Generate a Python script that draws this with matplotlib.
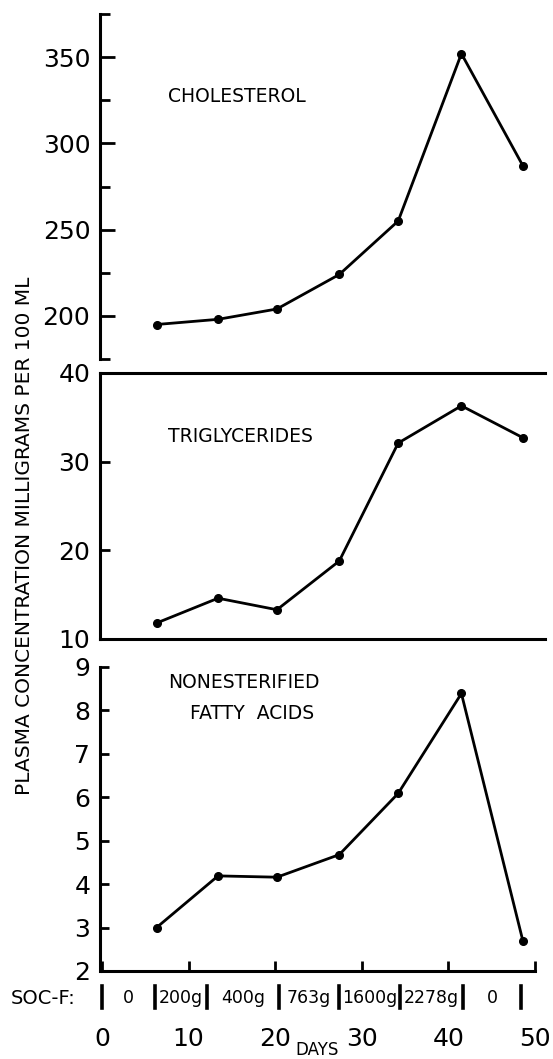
import matplotlib.pyplot as plt
from matplotlib.transforms import blended_transform_factory

plt.rcParams['font.family'] = 'DejaVu Sans'

# sampling days (shared by all three panels)
days = [6.3, 13.4, 20.2, 27.4, 34.2, 41.5, 48.6]

# plasma concentrations, mg per 100 ml
cholesterol = [195, 198, 204, 224, 255, 352, 287]
triglycerides = [11.8, 14.6, 13.3, 18.8, 32.1, 36.3, 32.7]
nefa = [3.0, 4.19, 4.16, 4.68, 6.09, 8.39, 2.69]

# SOC-F dosage periods
dose_change_days = [0, 6.1, 12.1, 20.4, 27.4, 34.4, 41.7, 48.4]
dose_labels = ['0', '200g', '400g', '763g', '1600g', '2278g', '0']

W, H = 553, 1059
fig = plt.figure(figsize=(W / 100, H / 100), dpi=100)

def px_axes(top, bottom, left=100, right=545):
    return fig.add_axes([left / W, 1 - bottom / H, (right - left) / W, (bottom - top) / H])

xlim = (-0.23, 51.15)
lw_spine = 2.2
line_kw = dict(color='black', lw=2.0, marker='o', ms=5.5, clip_on=False)
title_size = 13.5

# --- cholesterol ---
ax1 = px_axes(14, 359)
ax1.plot(days, cholesterol, **line_kw)
ax1.set_xlim(xlim)
ax1.set_ylim(175, 375)
for s in ['top', 'right', 'bottom']:
    ax1.spines[s].set_visible(False)
ax1.spines['left'].set_linewidth(lw_spine)
ax1.set_xticks([])
ax1.set_yticks([200, 250, 300, 350])
ax1.set_yticks([175, 225, 275, 325, 375], minor=True)
ax1.tick_params(axis='y', which='major', direction='in', length=10.5, width=2, labelsize=18, pad=7)
ax1.tick_params(axis='y', which='minor', direction='in', length=7, width=2)
ax1.text(7.6, 327, 'CHOLESTEROL', fontsize=title_size, va='center')

# --- triglycerides ---
ax2 = px_axes(373, 639)
ax2.plot(days, triglycerides, **line_kw)
ax2.set_xlim(xlim)
ax2.set_ylim(10, 40)
ax2.spines['right'].set_visible(False)
for s in ['top', 'left', 'bottom']:
    ax2.spines[s].set_linewidth(lw_spine)
ax2.set_xticks([])
ax2.set_yticks([10, 20, 30, 40])
ax2.tick_params(axis='y', direction='in', length=7, width=2, labelsize=18, pad=7)
ax2.text(7.6, 32.8, 'TRIGLYCERIDES', fontsize=title_size, va='center')

# --- nonesterified fatty acids ---
ax3 = px_axes(667, 971)
ax3.plot(days, nefa, **line_kw)
ax3.set_xlim(xlim)
ax3.set_ylim(2, 9)
for s in ['top', 'right']:
    ax3.spines[s].set_visible(False)
for s in ['left', 'bottom']:
    ax3.spines[s].set_linewidth(lw_spine)
ax3.spines['bottom'].set_bounds(0, 50)
ax3.set_xticks([0, 10, 20, 30, 40, 50])
ax3.set_yticks(range(2, 10))
ax3.tick_params(axis='y', direction='in', length=6.5, width=2, labelsize=18, pad=7)
ax3.tick_params(axis='x', direction='in', length=7, width=2, labelsize=18, pad=40)
ax3.text(7.6, 8.65, 'NONESTERIFIED', fontsize=title_size, va='center')
ax3.text(10.2, 7.92, 'FATTY  ACIDS', fontsize=title_size, va='center')

# SOC-F dosage row under the bottom axis
tr = blended_transform_factory(ax3.transData, ax3.transAxes)
for d in dose_change_days:
    ax3.plot([d, d], [-0.05, -0.122], transform=tr, color='black', lw=2.6, clip_on=False)
for i, lab in enumerate(dose_labels):
    mid = (dose_change_days[i] + dose_change_days[i + 1]) / 2
    ax3.text(mid, -0.088, lab, transform=tr, ha='center', va='center', fontsize=12.5)
fig.text(11 / W, 1 - 998 / H, 'SOC-F:', fontsize=14, va='center', ha='left')
fig.text(317 / W, 1 - 1050 / H, 'DAYS', fontsize=12, va='center', ha='center')

fig.text(25 / W, 1 - 536 / H, 'PLASMA CONCENTRATION MILLIGRAMS PER 100 ML',
         rotation=90, fontsize=14.5, va='center', ha='center')

fig.savefig('out.png', dpi=100)
